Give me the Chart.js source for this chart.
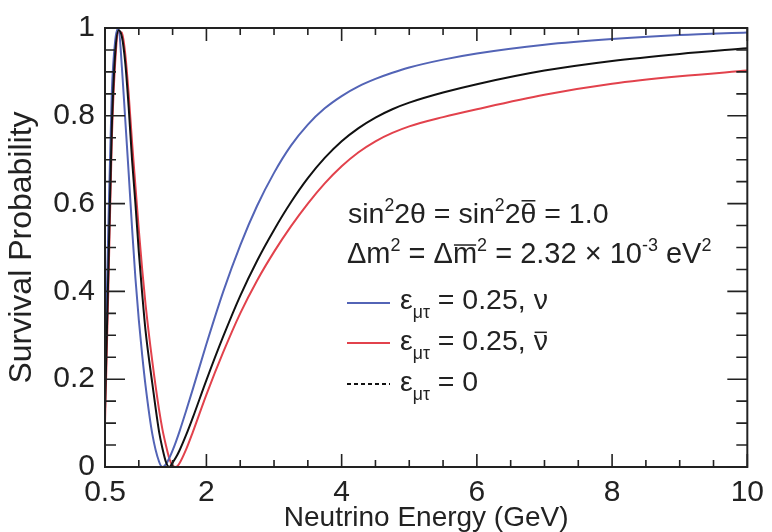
<!DOCTYPE html>
<html>
<head>
<meta charset="utf-8">
<script src="https://cdn.jsdelivr.net/npm/chart.js@4.4.1/dist/chart.umd.min.js"></script>
<style>
  body { margin: 0; background: #fff; }
  #wrap { width: 772px; height: 532px; }
</style>
</head>
<body>
<div id="wrap"><canvas id="survivalChart" width="772" height="532"></canvas></div>
<script>
const energies = [0.5, 0.55, 0.6, 0.65, 0.7, 0.75, 0.8, 0.85, 0.9, 0.95, 1.0, 1.05, 1.1, 1.2, 1.3, 1.35, 1.4, 1.45, 1.5, 1.55, 1.6, 1.7, 1.8, 2.0, 2.25, 2.5, 2.75, 3.0, 3.25, 3.5, 3.75, 4.0, 4.25, 4.5, 4.75, 5.0, 5.5, 6.0, 7.0, 8.0, 9.0, 10.0];

// eps_mutau = 0.25, neutrino (blue)
const probNu = [0.2, 0.55, 0.85, 0.97, 1.0, 0.91, 0.79, 0.67, 0.545, 0.43, 0.335, 0.255, 0.185, 0.075, 0.012, 0.0, 0.006, 0.02, 0.038, 0.058, 0.08, 0.128, 0.178, 0.28, 0.4, 0.505, 0.595, 0.67, 0.732, 0.78, 0.817, 0.845, 0.867, 0.884, 0.898, 0.91, 0.928, 0.942, 0.962, 0.975, 0.984, 0.99];

// eps_mutau = 0.25, antineutrino (red)
const probNuBar = [0.1, 0.41, 0.74, 0.92, 0.99, 0.99, 0.94, 0.85, 0.74, 0.64, 0.54, 0.45, 0.37, 0.24, 0.13, 0.085, 0.05, 0.02, 0.003, 0.0, 0.008, 0.04, 0.08, 0.165, 0.262, 0.35, 0.425, 0.49, 0.548, 0.6, 0.646, 0.685, 0.717, 0.742, 0.761, 0.776, 0.797, 0.815, 0.848, 0.873, 0.89, 0.903];

// eps_mutau = 0 (black)
const probStd = [0.13, 0.45, 0.77, 0.94, 0.995, 0.98, 0.92, 0.82, 0.7, 0.6, 0.49, 0.395, 0.31, 0.19, 0.08, 0.042, 0.012, 0.0, 0.01, 0.022, 0.037, 0.073, 0.113, 0.198, 0.298, 0.39, 0.47, 0.54, 0.603, 0.658, 0.704, 0.742, 0.772, 0.796, 0.815, 0.83, 0.853, 0.872, 0.903, 0.925, 0.941, 0.954];

// axis ticks
const xTickValues = [0.5, 2, 4, 6, 8, 10];
const xTickLabels = ['0.5', '2', '4', '6', '8', '10'];
const xMinorTicks = [1, 1.5, 2.5, 3, 3.5, 4.5, 5, 5.5, 6.5, 7, 7.5, 8.5, 9, 9.5];
const yTickValues = [0, 0.2, 0.4, 0.6, 0.8, 1];
const yTickLabels = ['0', '0.2', '0.4', '0.6', '0.8', '1'];
const yMinorTicks = [0.05, 0.1, 0.15, 0.25, 0.3, 0.35, 0.45, 0.5, 0.55, 0.65, 0.7, 0.75, 0.85, 0.9, 0.95];

const FONT = '"Liberation Sans", Arial, Helvetica, sans-serif';
const BLUE = '#5364b6';
const RED = '#e2424c';
const BLACK = '#111111';

function toPoints(values) {
    return energies.map((e, i) => ({ x: e, y: values[i] }));
}

// draw a string made of pieces (superscripts, subscripts, overbars)
function drawRich(ctx, x, y, parts, size) {
    let cx = x;
    parts.forEach(p => {
        const fs = (p.sup || p.sub) ? size * 0.62 : size;
        ctx.font = fs + 'px ' + FONT;
        let dy = 0;
        if (p.sup) dy = -size * 0.42;
        if (p.sub) dy = size * 0.3;
        ctx.fillText(p.t, cx, y + dy);
        const w = ctx.measureText(p.t).width;
        if (p.bar) {
            ctx.save();
            ctx.lineWidth = 1.5;
            ctx.beginPath();
            ctx.moveTo(cx + 1, y - size * (p.barH || 0.78));
            ctx.lineTo(cx + w - 1, y - size * (p.barH || 0.78));
            ctx.stroke();
            ctx.restore();
        }
        cx += w;
    });
    return cx;
}

// frame, inward ticks and the text box inside the plot
const framePlugin = {
    id: 'frame',
    afterDatasetsDraw(chart) {
        const ctx = chart.ctx;
        const area = chart.chartArea;
        const xs = chart.scales.x;
        const ys = chart.scales.y;
        ctx.save();
        ctx.strokeStyle = '#222';
        ctx.lineWidth = 2;
        ctx.strokeRect(area.left, area.top, area.right - area.left, area.bottom - area.top);

        ctx.lineWidth = 1.6;
        ctx.beginPath();
        const xTick = (v, len) => {
            const px = xs.getPixelForValue(v);
            ctx.moveTo(px, area.bottom); ctx.lineTo(px, area.bottom - len);
            ctx.moveTo(px, area.top); ctx.lineTo(px, area.top + len);
        };
        const yTick = (v, len) => {
            const py = ys.getPixelForValue(v);
            ctx.moveTo(area.left, py); ctx.lineTo(area.left + len, py);
            ctx.moveTo(area.right, py); ctx.lineTo(area.right - len, py);
        };
        xTickValues.forEach(v => xTick(v, 13));
        xMinorTicks.forEach(v => xTick(v, 7));
        yTickValues.forEach(v => yTick(v, 20));
        yMinorTicks.forEach(v => yTick(v, 11));
        ctx.stroke();
        ctx.restore();
    },
    afterDraw(chart) {
        const ctx = chart.ctx;
        const size = 28.5;
        ctx.save();
        ctx.fillStyle = '#222';
        ctx.strokeStyle = '#222';
        ctx.textBaseline = 'alphabetic';

        drawRich(ctx, 348, 223, [
            { t: 'sin' }, { t: '2', sup: true }, { t: '2θ = sin' }, { t: '2', sup: true },
            { t: '2' }, { t: 'θ', bar: true }, { t: ' = 1.0' }
        ], size);

        drawRich(ctx, 347, 263, [
            { t: 'Δm' }, { t: '2', sup: true }, { t: ' = Δ' }, { t: 'm', bar: true, barH: 0.62 },
            { t: '2', sup: true }, { t: ' = 2.32 × 10' }, { t: '-3', sup: true }, { t: ' eV' }, { t: '2', sup: true }
        ], size + 0.5);

        // legend samples
        const samples = [
            { y: 303, color: BLUE, dash: [] },
            { y: 343, color: RED, dash: [] },
            { y: 384, color: BLACK, dash: [4, 3] }
        ];
        samples.forEach(s => {
            ctx.save();
            ctx.strokeStyle = s.color;
            ctx.lineWidth = 2;
            ctx.setLineDash(s.dash);
            ctx.beginPath();
            ctx.moveTo(347, s.y);
            ctx.lineTo(390, s.y);
            ctx.stroke();
            ctx.restore();
        });

        drawRich(ctx, 400, 309, [
            { t: 'ε' }, { t: 'μτ', sub: true }, { t: ' = 0.25, ν' }
        ], size);
        drawRich(ctx, 400, 350, [
            { t: 'ε' }, { t: 'μτ', sub: true }, { t: ' = 0.25, ' }, { t: 'ν', bar: true, barH: 0.62 }
        ], size);
        drawRich(ctx, 400, 391, [
            { t: 'ε' }, { t: 'μτ', sub: true }, { t: ' = 0' }
        ], size);
        ctx.restore();
    }
};

const ctx = document.getElementById('survivalChart').getContext('2d');
new Chart(ctx, {
    type: 'line',
    data: {
        datasets: [
            {
                label: 'eps = 0',
                data: toPoints(probStd),
                borderColor: BLACK,
                borderWidth: 2,
                pointRadius: 0,
                cubicInterpolationMode: 'monotone'
            },
            {
                label: 'eps = 0.25, nu',
                data: toPoints(probNu),
                borderColor: BLUE,
                borderWidth: 2,
                pointRadius: 0,
                cubicInterpolationMode: 'monotone'
            },
            {
                label: 'eps = 0.25, nubar',
                data: toPoints(probNuBar),
                borderColor: RED,
                borderWidth: 2,
                pointRadius: 0,
                cubicInterpolationMode: 'monotone'
            }
        ]
    },
    options: {
        responsive: false,
        animation: false,
        devicePixelRatio: 1,
        layout: { padding: { left: 0, right: 19, top: 21, bottom: 0 } },
        plugins: {
            legend: { display: false },
            tooltip: { enabled: false }
        },
        scales: {
            x: {
                type: 'linear',
                min: 0.5,
                max: 10,
                afterBuildTicks: scale => {
                    scale.ticks = xTickValues.map(v => ({ value: v }));
                },
                afterFit: scale => { scale.height = 65; },
                grid: { display: false, drawTicks: false },
                border: { display: false },
                ticks: {
                    color: '#222',
                    padding: 8,
                    maxRotation: 0,
                    autoSkip: false,
                    font: { family: FONT, size: 30 },
                    callback: (value, index) => xTickLabels[index]
                },
                title: {
                    display: true,
                    text: 'Neutrino Energy (GeV)',
                    color: '#222',
                    font: { family: FONT, size: 28, lineHeight: 1 },
                    padding: { top: 0, bottom: 0 }
                }
            },
            y: {
                min: 0,
                max: 1,
                afterBuildTicks: scale => {
                    scale.ticks = yTickValues.map(v => ({ value: v }));
                },
                afterFit: scale => { scale.width = 105; },
                grid: { display: false, drawTicks: false },
                border: { display: false },
                ticks: {
                    color: '#222',
                    padding: 10,
                    autoSkip: false,
                    font: { family: FONT, size: 30 },
                    callback: (value, index) => yTickLabels[index]
                },
                title: {
                    display: true,
                    text: 'Survival Probability',
                    color: '#222',
                    font: { family: FONT, size: 32, lineHeight: 1 },
                    padding: { top: 6, bottom: 0 }
                }
            }
        }
    },
    plugins: [framePlugin]
});
</script>
</body>
</html>
